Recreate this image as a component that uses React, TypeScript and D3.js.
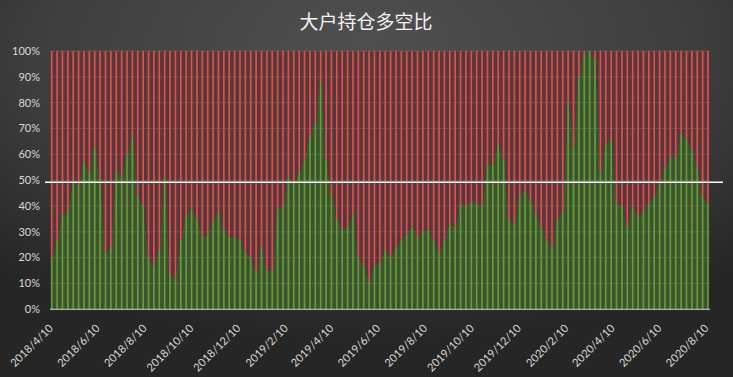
import React from 'react';
import * as d3 from 'd3';

const TITLE = '大户持仓多空比';
const START_DATE = '2018-04-10';
// weekly share of long positions (%), remainder is short
const LONG_PCT = [
  20, 27, 37, 38, 50, 48, 57, 53, 63, 50, 22, 24, 54, 51, 60, 67, 44, 40, 20, 17,
  23, 51, 14, 12, 27, 36, 39, 35, 28, 29, 34, 38, 31, 28, 28, 27, 22, 20, 14, 24,
  15, 15, 39, 40, 51, 49, 53, 58, 67, 72, 88, 58, 44, 35, 31, 32, 37, 20, 17, 11,
  17, 18, 23, 20, 24, 27, 29, 32, 28, 30, 31, 27, 22, 27, 33, 32, 41, 40, 42, 41,
  40, 56, 56, 64, 58, 35, 33, 44, 46, 42, 37, 32, 27, 24, 35, 38, 80, 63, 90, 99,
  100, 97, 53, 64, 66, 41, 40, 32, 40, 36, 38, 41, 44, 49, 55, 59, 59, 68, 66, 62,
  55, 44, 41,
];
const Y_TICKS = [0, 10, 20, 30, 40, 50, 60, 70, 80, 90, 100];
const X_TICK_LABELS = [
  '2018/4/10', '2018/6/10', '2018/8/10', '2018/10/10', '2018/12/10',
  '2019/2/10', '2019/4/10', '2019/6/10', '2019/8/10', '2019/10/10',
  '2019/12/10', '2020/2/10', '2020/4/10', '2020/6/10', '2020/8/10',
];
const REF_LINE = 49.2;

export default function App() {
  const W = 733;
  const H = 377;
  const start = d3.timeParse('%Y-%m-%d')(START_DATE) as Date;
  const dates = LONG_PCT.map((_, i) => d3.timeDay.offset(start, 7 * i));
  const x = d3.scaleTime().domain([dates[0], dates[dates.length - 1]]).range([51.7, 708]);
  const y = d3.scaleLinear().domain([0, 100]).range([309.3, 51]);
  const parseTick = d3.timeParse('%Y/%m/%d');
  const ticks = X_TICK_LABELS.map((s) => ({ label: s, d: parseTick(s) as Date }));

  const data = LONG_PCT.map((v, i) => ({ d: dates[i], v }));
  const greenArea = d3.area<{ d: Date; v: number }>()
    .x((p) => x(p.d)).y0(y(0)).y1((p) => y(p.v))(data) as string;
  const redArea = d3.area<{ d: Date; v: number }>()
    .x((p) => x(p.d)).y0((p) => y(p.v)).y1(y(100))(data) as string;

  const stripeW = 1.7;
  const font = 'Lato, "Open Sans", "Liberation Sans", sans-serif';

  return (
    <svg width={W} height={H} style={{ position: 'absolute', left: 0, top: 0 }}>
      <defs>
        <radialGradient id="bg" cx="50%" cy="15%" r="75%" fx="50%" fy="10%">
          <stop offset="0%" stopColor="#4f4f4f" />
          <stop offset="60%" stopColor="#3e3e3e" />
          <stop offset="100%" stopColor="#262626" />
        </radialGradient>
      </defs>
      <rect x={0} y={0} width={W} height={H} fill="url(#bg)" />
      <text x={366} y={29} textAnchor="middle" fill="#f2f2f2" fontSize={19}
        fontFamily='"Noto Sans CJK SC", sans-serif'>{TITLE}</text>

      <path d={redArea} fill="#573739" />
      <path d={greenArea} fill="#3a552e" />

      {Y_TICKS.map((t) => (
        <line key={'g' + t} x1={50} x2={710} y1={y(t)} y2={y(t)}
          stroke="#ffffff" strokeOpacity={t === 0 ? 0 : 0.12} strokeWidth={1} />
      ))}

      {data.map((p, i) => (
        <g key={i}>
          <rect x={x(p.d) - stripeW / 2} width={stripeW} y={y(100)} height={y(p.v) - y(100)} fill="#dc504e" />
          <rect x={x(p.d) - stripeW / 2} width={stripeW} y={y(p.v)} height={y(0) - y(p.v)} fill="#6b983b" />
        </g>
      ))}

      <line x1={50} x2={710} y1={y(0)} y2={y(0)} stroke="#d0d0d0" strokeWidth={1} />
      <line x1={45} x2={723} y1={y(REF_LINE)} y2={y(REF_LINE)} stroke="#ffffff" strokeWidth={1.5} />

      {Y_TICKS.map((t) => (
        <text key={'y' + t} x={40} y={y(t)} dy="0.35em" textAnchor="end" fill="#d9d9d9"
          fontSize={11} fontFamily={font}>{t + '%'}</text>
      ))}

      {ticks.map((t) => (
        <text key={t.label} transform={`translate(${x(t.d) + 2},${329}) rotate(-45)`}
          textAnchor="end" fill="#d9d9d9" fontSize={11} fontFamily={font}>{t.label}</text>
      ))}
    </svg>
  );
}
